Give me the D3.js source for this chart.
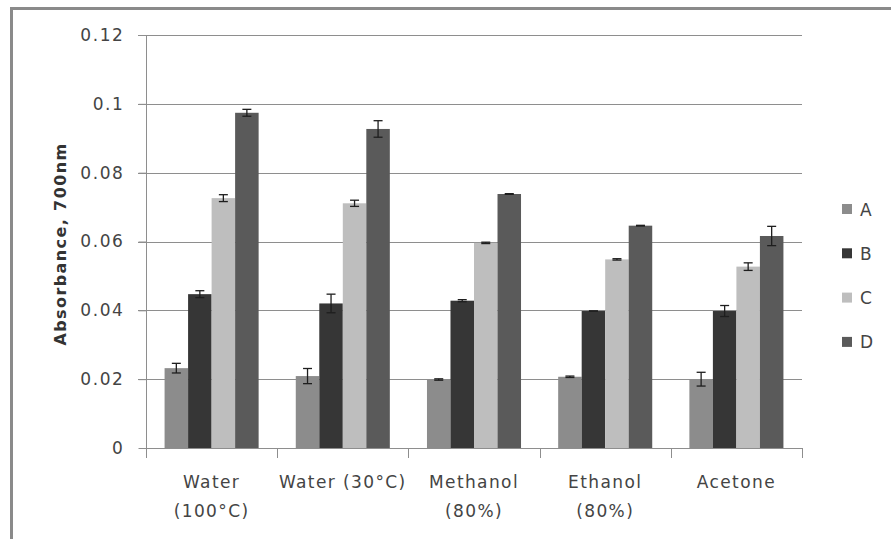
<!DOCTYPE html>
<html>
<head>
<meta charset="utf-8">
<script src="https://cdn.jsdelivr.net/npm/d3@7"></script>
<style>
  body { margin: 0; background: #fff; }
  svg text { font-family: "DejaVu Sans", sans-serif; }
</style>
</head>
<body>
<script>
// chart values
var categories = ["Water\n(100°C)", "Water (30°C)", "Methanol\n(80%)", "Ethanol\n(80%)", "Acetone"];
var seriesNames = ["A", "B", "C", "D"];
var valuesA = [0.0232, 0.0209, 0.0199, 0.0207, 0.0200];
var valuesB = [0.0447, 0.0420, 0.0428, 0.0398, 0.0398];
var valuesC = [0.0726, 0.0711, 0.0596, 0.0548, 0.0527];
var valuesD = [0.0974, 0.0927, 0.0738, 0.0646, 0.0616];
var errA = [0.0014, 0.0022, 0.0002, 0.0002, 0.0020];
var errB = [0.0010, 0.0027, 0.0003, 0.0000, 0.0016];
var errC = [0.0010, 0.0009, 0.0002, 0.0002, 0.0011];
var errD = [0.0010, 0.0024, 0.0001, 0.0001, 0.0028];
var yTicks = [0, 0.02, 0.04, 0.06, 0.08, 0.1, 0.12];
var colors = ["#8c8c8c", "#363636", "#bebebe", "#5a5a5a"];

var W = 891, H = 539;
var plotLeft = 146, plotRight = 802, plotTop = 35, plotBottom = 448;

var svg = d3.select("body").append("svg")
    .attr("width", W)
    .attr("height", H);

// frame (only top and left edges show)
svg.append("line").attr("x1", 11).attr("x2", W).attr("y1", 8.5).attr("y2", 8.5)
    .attr("stroke", "#8a8a8a").attr("stroke-width", 3);
svg.append("line").attr("x1", 11.5).attr("x2", 11.5).attr("y1", 7).attr("y2", H)
    .attr("stroke", "#8a8a8a").attr("stroke-width", 3);

var y = d3.scaleLinear().domain([0, 0.12]).range([plotBottom, plotTop]);
var x0 = d3.scaleBand().domain(categories).range([plotLeft, plotRight]).padding(0);
var x1 = d3.scaleBand().domain(seriesNames).range([0, x0.bandwidth()])
    .paddingInner(0).paddingOuter(0.79);

// gridlines
svg.append("g")
    .selectAll("line")
    .data(yTicks.slice(1))
    .enter()
    .append("line")
    .attr("x1", plotLeft - 8).attr("x2", plotRight)
    .attr("y1", function (d) { return Math.round(y(d)) + 0.5; })
    .attr("y2", function (d) { return Math.round(y(d)) + 0.5; })
    .attr("stroke", "#8e8e8e");

// y axis
var yAxis = svg.append("g")
    .attr("transform", "translate(" + (plotLeft + 0.5) + ",0)")
    .call(d3.axisLeft(y).tickValues(yTicks).tickSize(8).tickPadding(14)
        .tickFormat(function (d) { return d === 0 ? "0" : String(+d.toFixed(2)); }));
yAxis.select(".domain").attr("stroke", "#8e8e8e").attr("d", "M0," + plotTop + "V" + (plotBottom + 10));
yAxis.selectAll(".tick line").attr("stroke", "#8e8e8e");
yAxis.selectAll(".tick text")
    .style("font-size", "17px")
    .style("letter-spacing", "1.6px")
    .attr("fill", "#444");

// y axis title
svg.append("text")
    .attr("transform", "translate(66," + 244 + ") rotate(-90)")
    .style("text-anchor", "middle")
    .style("font-size", "16px")
    .style("font-weight", "bold")
    .style("letter-spacing", "1.4px")
    .attr("fill", "#333")
    .text("Absorbance, 700nm");

// bars
var series = [valuesA, valuesB, valuesC, valuesD];
var errors = [errA, errB, errC, errD];
var rows = [];
seriesNames.forEach(function (s, si) {
    categories.forEach(function (c, ci) {
        rows.push({ cat: c, name: s, si: si, v: series[si][ci], e: errors[si][ci] });
    });
});

svg.append("g")
    .selectAll("rect")
    .data(rows)
    .enter()
    .append("rect")
    .attr("x", function (d) { return x0(d.cat) + x1(d.name); })
    .attr("width", x1.bandwidth())
    .attr("y", function (d) { return y(d.v); })
    .attr("height", function (d) { return y(0) - y(d.v); })
    .attr("fill", function (d) { return colors[d.si]; });

// error bars
var eb = svg.append("g").attr("stroke", "#1e1e1e").attr("stroke-width", 1.3);
rows.forEach(function (d) {
    var cx = x0(d.cat) + x1(d.name) + x1.bandwidth() / 2;
    eb.append("line").attr("x1", cx).attr("x2", cx)
        .attr("y1", y(d.v + d.e)).attr("y2", y(d.v - d.e));
    [d.v + d.e, d.v - d.e].forEach(function (v) {
        eb.append("line").attr("x1", cx - 4.5).attr("x2", cx + 4.5)
            .attr("y1", y(v)).attr("y2", y(v));
    });
});

// x axis
svg.append("line")
    .attr("x1", plotLeft).attr("x2", plotRight)
    .attr("y1", plotBottom + 0.5).attr("y2", plotBottom + 0.5)
    .attr("stroke", "#8e8e8e");
var boundaries = categories.map(function (c) { return x0(c); }).concat([plotRight]);
svg.append("g")
    .selectAll("line")
    .data(boundaries)
    .enter()
    .append("line")
    .attr("x1", function (d) { return Math.round(d) + 0.5; })
    .attr("x2", function (d) { return Math.round(d) + 0.5; })
    .attr("y1", plotBottom).attr("y2", plotBottom + 10)
    .attr("stroke", "#8e8e8e");

var xl = svg.append("g")
    .selectAll("text")
    .data(categories)
    .enter()
    .append("text")
    .attr("x", function (d) { return x0(d) + x0.bandwidth() / 2; })
    .attr("y", 488)
    .style("text-anchor", "middle")
    .style("font-size", "17px")
    .style("letter-spacing", "1.4px")
    .attr("fill", "#444");
xl.each(function (d) {
    var t = d3.select(this);
    d.split("\n").forEach(function (part, i) {
        t.append("tspan")
            .attr("x", t.attr("x"))
            .attr("dy", i === 0 ? 0 : 29)
            .text(part);
    });
});

// legend
var legend = svg.append("g")
    .selectAll("g")
    .data(seriesNames)
    .enter()
    .append("g")
    .attr("transform", function (d, i) { return "translate(842," + (209 + i * 44.3) + ")"; });
legend.append("rect")
    .attr("x", 0).attr("y", -5)
    .attr("width", 10).attr("height", 10)
    .attr("fill", function (d, i) { return colors[i]; });
legend.append("text")
    .attr("x", 18).attr("y", 6.5)
    .style("font-size", "17px")
    .attr("fill", "#444")
    .text(function (d) { return d; });
</script>
</body>
</html>
